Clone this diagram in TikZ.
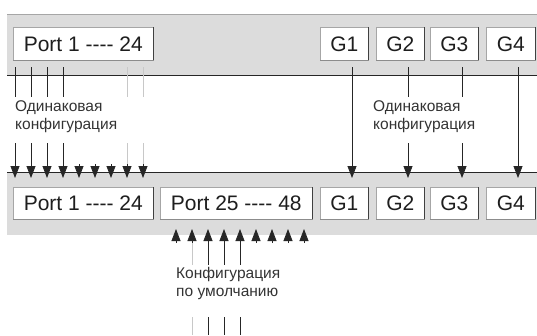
\documentclass[tikz,border=0pt]{standalone}
\usepackage{fontspec}
\setmainfont{Liberation Sans}
\usetikzlibrary{arrows.meta}
\definecolor{band}{HTML}{DCDCDC}
\definecolor{txt}{HTML}{1E1E1E}
\definecolor{lbl}{HTML}{333333}
\definecolor{faint}{HTML}{C8C8C8}
\tikzset{
  portbox/.style={draw=gray!70, fill=white, line width=0.6pt, inner sep=0pt, anchor=north west, font=\fontsize{21}{23}\selectfont, text=txt},
  lbltext/.style={font=\fontsize{15.5}{18.5}\selectfont, text=lbl, align=left, anchor=north west, inner sep=0pt},
  wire/.style={line width=0.8pt, draw=black!85},
  fwire/.style={line width=0.8pt, draw=faint},
  arrd/.style={wire, -{Triangle[length=12pt,width=9pt]}},
  shade/.style={line width=1pt, draw=black!75}
}
\newcommand{\dsh}{{-}{-}{-}{-}}
\begin{document}
\begin{tikzpicture}[x=1pt,y=-1pt]
\useasboundingbox (0,0) rectangle (537,335);
% bands
\fill[band] (7,14) rectangle (537,75);
\draw[gray!70, line width=0.8pt] (7,14) -- (537,14);
\draw[black!85, line width=1pt] (7,75) -- (537,75);
\fill[band] (7,172) rectangle (537,235);
\draw[black!85, line width=1pt] (7,172) -- (537,172);
% macro for boxes
\newcommand{\pbox}[5]{%
  \node[portbox, minimum width=#3, minimum height=#4] (#1) at (#2) {#5};
  \draw[shade] (#1.north east) -- (#1.south east);
  \draw[gray!90, line width=0.8pt] (#1.south west) -- (#1.south east);
}
% top boxes
\pbox{tp}{13,27}{140pt}{33pt}{Port 1 \dsh{} 24}
\pbox{tg1}{320,27}{48pt}{33pt}{G1}
\pbox{tg2}{376,27}{48pt}{33pt}{G2}
\pbox{tg3}{430,27}{48pt}{33pt}{G3}
\pbox{tg4}{486,27}{49pt}{33pt}{G4}
% bottom boxes
\pbox{bp}{13,187}{140pt}{32pt}{Port 1 \dsh{} 24}
\pbox{bq}{160,187}{152pt}{32pt}{Port 25 \dsh{} 48}
\pbox{bg1}{320,187}{48pt}{32pt}{G1}
\pbox{bg2}{376,187}{48pt}{32pt}{G2}
\pbox{bg3}{430,187}{48pt}{32pt}{G3}
\pbox{bg4}{486,187}{49pt}{32pt}{G4}
% labels
\node[lbltext] (l1) at (15,100) {Одинаковая\\конфигурация};
\node[lbltext] (l2) at (373,100) {Одинаковая\\конфигурация};
\node[lbltext] (l3) at (176,267) {Конфигурация\\по умолчанию};
% coordinates for port lines
\foreach \i in {0,...,8} {
  \pgfmathsetmacro{\xx}{15+16*\i}
  \coordinate (ta\i) at (\xx,67);
  \coordinate (tb\i) at (\xx,97);
  \coordinate (tc\i) at (\xx,143);
  \coordinate (tq\i) at (\xx,164);
  \coordinate (td\i) at (\xx,178);
}
\foreach \i in {0,1,2,3} {
  \draw[wire] (ta\i) -- (tb\i);
  \draw[wire] (tc\i) -- (tq\i);
}
\foreach \i in {7,8} {
  \draw[fwire] (ta\i) -- (tb\i);
  \draw[fwire] (tc\i) -- (tq\i);
}
\foreach \i in {0,...,8} {
  \draw[arrd] (tq\i) -- (td\i);
}
% G arrows
\coordinate (g1a) at (352,67); \coordinate (g1d) at (352,178);
\coordinate (g2a) at (408,67); \coordinate (g2b) at (408,97); \coordinate (g2c) at (408,143); \coordinate (g2d) at (408,178);
\coordinate (g3a) at (462,67); \coordinate (g3b) at (462,97); \coordinate (g3c) at (462,143); \coordinate (g3d) at (462,178);
\coordinate (g4a) at (518,67); \coordinate (g4d) at (518,178);
\draw[arrd] (g1a) -- (g1d);
\draw[arrd] (g4a) -- (g4d);
\draw[wire] (g2a) -- (g2b);
\draw[arrd] (g2c) -- (g2d);
\draw[wire] (g3a) -- (g3b);
\draw[arrd] (g3c) -- (g3d);
% bottom up arrows
\foreach \i in {0,...,8} {
  \pgfmathsetmacro{\xx}{176+16*\i}
  \coordinate (ua\i) at (\xx,229);
  \coordinate (ub\i) at (\xx,243);
  \coordinate (uc\i) at (\xx,265);
  \coordinate (ud\i) at (\xx,317);
  \coordinate (ue\i) at (\xx,335);
}
\foreach \i in {0,...,8} {
  \draw[arrd] (ub\i) -- (ua\i);
}
\draw[fwire] (ub1) -- (uc1);
\draw[fwire] (ud1) -- (ue1);
\foreach \i in {2,3,4} {
  \draw[wire] (ub\i) -- (uc\i);
  \draw[wire] (ud\i) -- (ue\i);
}
\end{tikzpicture}
\end{document}
